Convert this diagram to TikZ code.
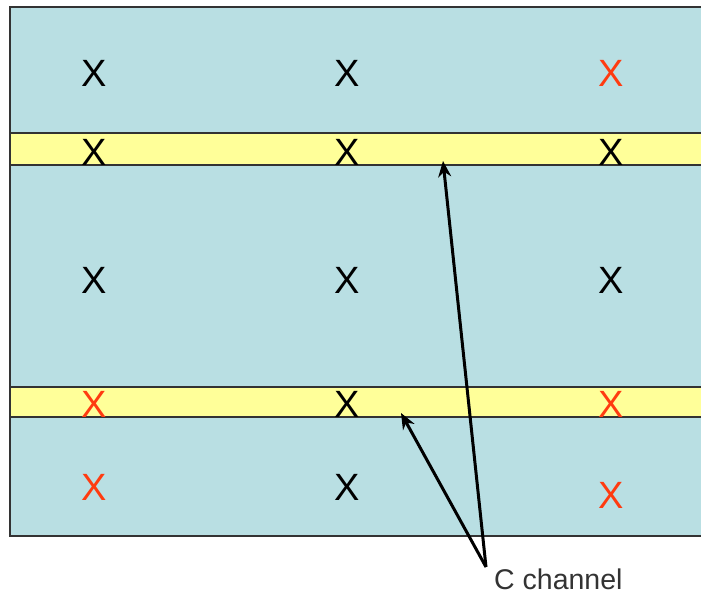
\documentclass[tikz,border=0pt]{standalone}
\usepackage{fontspec}
\setmainfont{Liberation Sans}
\usetikzlibrary{arrows.meta}
\definecolor{chanblue}{HTML}{B9DFE3}
\definecolor{chanyellow}{HTML}{FFFF99}
\definecolor{xred}{HTML}{FF3B10}
\definecolor{edge}{HTML}{333333}
\tikzset{
  mark x/.style={inner sep=0pt, font=\fontsize{38}{38}\selectfont, text=black},
  red x/.style={mark x, text=xred},
  pointer/.style={line width=3pt, -{Stealth[length=16pt,width=13pt]}},
  frame/.style={draw=edge, line width=1.6pt},
}
\begin{document}
\begin{tikzpicture}[x=1pt,y=-1pt]
\useasboundingbox (0,0) rectangle (701,595);
\clip (0,0) rectangle (701,595);
\fill[white] (0,0) rectangle (701,595);
% panel
\filldraw[frame, fill=chanblue] (10,7) rectangle (720,536);
\filldraw[frame, fill=chanyellow] (10,133) rectangle (720,165);
\filldraw[frame, fill=chanyellow] (10,387) rectangle (720,417);
% X marks
\node[mark x] (a1) at (94,73) {X};
\node[mark x] (a2) at (347,73) {X};
\node[red x]  (a3) at (611,73) {X};
\node[mark x] (b1) at (94,152) {X};
\node[mark x] (b2) at (347,152) {X};
\node[mark x] (b3) at (611,152) {X};
\node[mark x] (c1) at (94,280) {X};
\node[mark x] (c2) at (347,280) {X};
\node[mark x] (c3) at (611,280) {X};
\node[red x]  (d1) at (94,404) {X};
\node[mark x] (d2) at (347,404) {X};
\node[red x]  (d3) at (611,404) {X};
\node[red x]  (e1) at (94,487) {X};
\node[mark x] (e2) at (347,487) {X};
\node[red x]  (e3) at (611,495) {X};
% label and pointers
\node[anchor=base west, inner sep=0pt, font=\fontsize{28.5}{28.5}\selectfont, text=edge] (lbl) at (494,589) {C channel};
\coordinate (src) at (486,567);
\coordinate (tipA) at (443,161);
\coordinate (tipB) at (401,413);
\draw[pointer] (src) -- (tipA);
\draw[pointer] (src) -- (tipB);
\end{tikzpicture}
\end{document}
